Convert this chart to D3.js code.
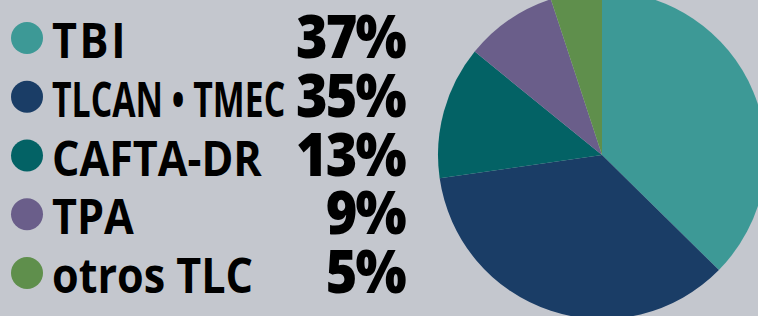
<!DOCTYPE html>
<meta charset="utf-8">
<script src="https://d3js.org/d3.v7.min.js"></script>
<style>
  body { margin: 0; background: #c4c7ce; overflow: hidden; }
</style>
<div id="chart"></div>
<script>

// data
var categories = ["TBI", "TLCAN • TMEC", "CAFTA-DR", "TPA", "otros TLC"];
var values = [37, 35, 13, 9, 5];
var colors = ["#3d9996", "#1a3d66", "#036265", "#6a5e8a", "#5f8f4c"];

var width = 758, height = 316;

var svg = d3.select("#chart")
  .append("svg")
    .attr("width", width)
    .attr("height", height);

svg.append("rect")
  .attr("width", width)
  .attr("height", height)
  .attr("fill", "#c4c7ce");

// pie
var radius = 164;
var pie = d3.pie().sort(null).value(function(d) { return d; });
var arc = d3.arc().innerRadius(0).outerRadius(radius);

var g = svg.append("g")
  .attr("transform", "translate(602,155)");

g.selectAll("path")
  .data(pie(values))
  .enter()
  .append("path")
    .attr("d", arc)
    .attr("fill", function(d, i) { return colors[i]; });

// legend rows
var y = d3.scalePoint()
  .domain(categories)
  .range([58, 293]);

var rows = svg.selectAll(".row")
  .data(categories)
  .enter()
  .append("g")
    .attr("class", "row")
    .attr("transform", function(d) { return "translate(0," + y(d) + ")"; });

rows.append("circle")
  .attr("cx", 27)
  .attr("cy", -20)
  .attr("r", 16)
  .attr("fill", function(d, i) { return colors[i]; });

// labels: condensed, squeezed if wider than the column before the percentages
var maxLabel = 265; // in unscaled units (0.88 * 265 ~ 233px)
rows.append("text")
  .attr("transform", "translate(52,0) scale(0.88,1)")
  .attr("font-family", "Open Sans")
  .attr("font-weight", 700)
  .attr("font-size", 49)
  .attr("letter-spacing", function(d) { return d.length <= 3 && d === d.toUpperCase() && d !== "TPA" ? 3 : 0; })
  .attr("fill", "#000")
  .text(function(d) { return d; })
  .each(function() {
    var w = this.getComputedTextLength();
    if (w > maxLabel) {
      d3.select(this)
        .attr("textLength", maxLabel)
        .attr("lengthAdjust", "spacingAndGlyphs");
    }
  });

rows.append("text")
  .attr("transform", "translate(405,0) scale(0.9,1)")
  .attr("text-anchor", "end")
  .attr("font-family", "Open Sans")
  .attr("font-weight", 800)
  .attr("font-size", 60)
  .attr("letter-spacing", -2)
  .attr("fill", "#000")
  .text(function(d, i) { return values[i] + "%"; });

</script>
